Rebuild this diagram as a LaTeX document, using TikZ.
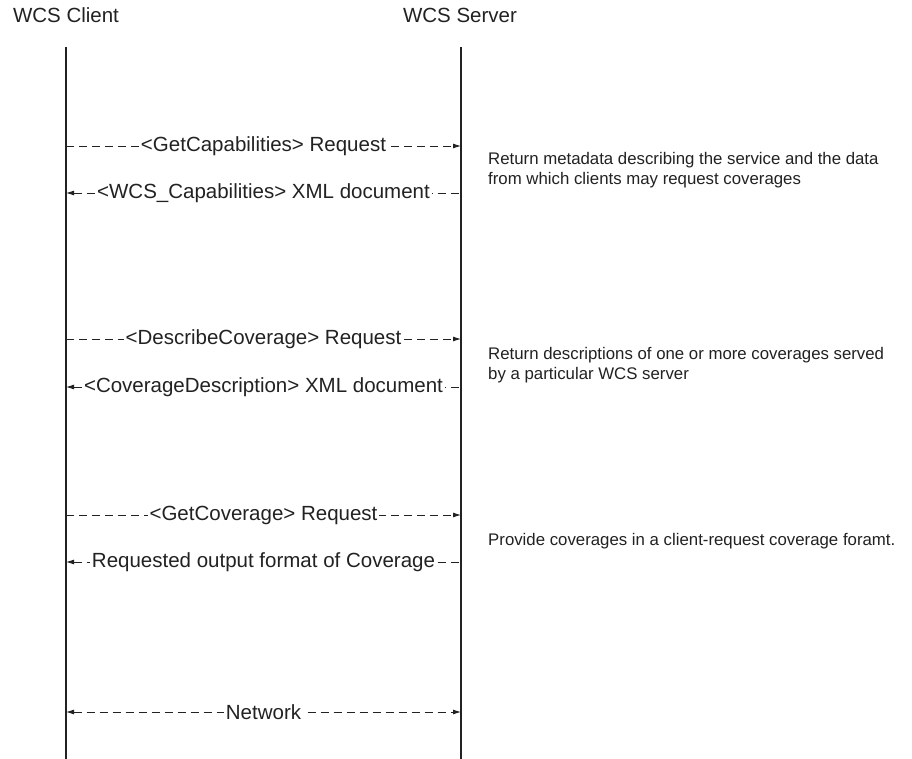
\documentclass[tikz,border=0pt]{standalone}
\usepackage{fontspec}
\setmainfont{Liberation Sans}
\usetikzlibrary{arrows.meta}
\definecolor{ink}{HTML}{222222}
\tikzset{
  lifeline/.style={draw=ink, line width=1.8pt},
  msg/.style={draw=ink, line width=0.9pt, dash pattern=on 8pt off 5pt},
  tipfwd/.style={-{Latex[length=8pt,width=5pt]}},
  tipback/.style={{Latex[length=8pt,width=5pt]}-},
  tipboth/.style={{Latex[length=8pt,width=5pt]}-{Latex[length=8pt,width=5pt]}},
  msglabel/.style={fill=white, inner sep=2pt, text=ink, font=\fontsize{20.5}{24}\selectfont},
  title/.style={text=ink, font=\fontsize{20.5}{24}\selectfont},
  note/.style={text=ink, anchor=west, align=left, inner sep=0pt, font=\fontsize{16.8}{20}\selectfont}
}
\begin{document}
\begin{tikzpicture}[x=1pt, y=-1pt]
  \useasboundingbox[fill=white] (0,0) rectangle (912,759);

  % participants, centred over their lifelines
  \node[title] (client) at (66,15) {WCS Client};
  \node[title] (server) at (460,15) {WCS Server};

  % lifelines
  \coordinate (ctop) at (66,47);
  \coordinate (cbot) at (66,759);
  \coordinate (stop) at (461,47);
  \coordinate (sbot) at (461,759);
  \draw[lifeline] (ctop) -- (cbot);
  \draw[lifeline] (stop) -- (sbot);

  % message end points on the lifelines
  \foreach \n/\y in {a/146, b/193, c/339, d/387, e/515, f/562, g/712} {
    \coordinate (c\n) at (66,\y);
    \coordinate (s\n) at (461,\y);
  }

  % GetCapabilities
  \draw[msg, tipfwd] (ca) -- node[msglabel] {<GetCapabilities> Request} (sa);
  \draw[msg, tipback] (cb) -- node[msglabel] {<WCS\_Capabilities> XML document} (sb);
  \node[note] (n1) at (488,170) {Return metadata describing the service and the data\\from which clients may request coverages};

  % DescribeCoverage
  \draw[msg, tipfwd] (cc) -- node[msglabel] {<DescribeCoverage> Request} (sc);
  \draw[msg, tipback] (cd) -- node[msglabel] {<CoverageDescription> XML document} (sd);
  \node[note] (n2) at (488,365) {Return descriptions of one or more coverages served\\by a particular WCS server};

  % GetCoverage
  \draw[msg, tipfwd] (ce) -- node[msglabel] {<GetCoverage> Request} (se);
  \draw[msg, tipback] (cf) -- node[msglabel] {Requested output format of Coverage} (sf);
  \node[note] (n3) at (488,541) {Provide coverages in a client-request coverage foramt.};

  % network
  \draw[msg, tipboth] (cg) -- node[msglabel] {Network} (sg);
\end{tikzpicture}
\end{document}
